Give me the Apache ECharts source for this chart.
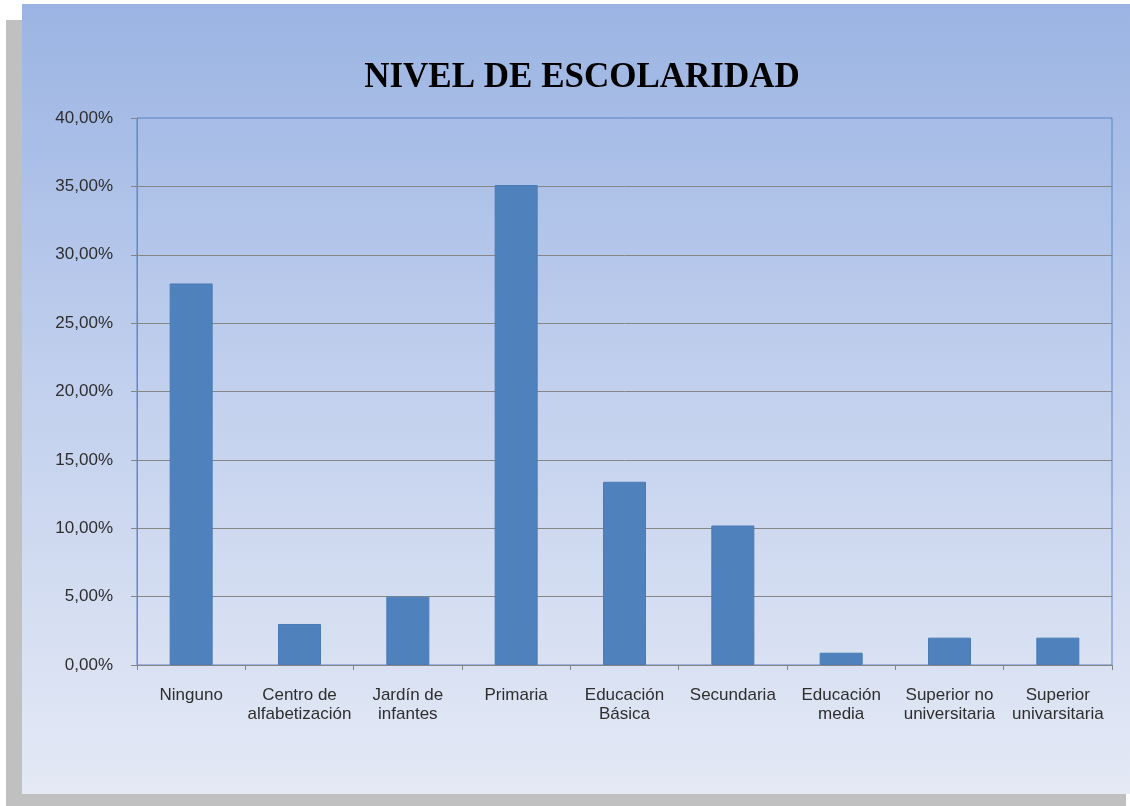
<!DOCTYPE html>
<html>
<head>
<meta charset="utf-8">
<script src="https://cdn.jsdelivr.net/npm/echarts@6/dist/echarts.min.js"></script>
<style>
html, body { margin: 0; padding: 0; background: #ffffff; }
#chart { width: 1130px; height: 806px; }
</style>
</head>
<body>
<div id="chart"></div>
<script>
// datos
var categorias = ['Ninguno', 'Centro de\nalfabetización', 'Jardín de\ninfantes', 'Primaria',
  'Educación\nBásica', 'Secundaria', 'Educación\nmedia', 'Superior no\nuniversitaria', 'Superior\nunivarsitaria'];
var porcentajes = [27.9, 3.0, 5.0, 35.1, 13.4, 10.2, 0.9, 2.0, 2.0];
var titulo = 'NIVEL DE ESCOLARIDAD';

var chart = echarts.init(document.getElementById('chart'), null, { renderer: 'canvas' });
chart.setOption({
  animation: false,
  graphic: [
    { type: 'rect', z: -10, silent: true, shape: { x: 6, y: 20, width: 1120, height: 786 },
      style: { fill: '#c0c0c0' } },
    { type: 'rect', z: -9, silent: true, shape: { x: 22, y: 4, width: 1108, height: 790 },
      style: {
        fill: new echarts.graphic.LinearGradient(0, 0, 0, 1, [
          { offset: 0, color: '#9bb4e3' },
          { offset: 0.5, color: '#c3d1ee' },
          { offset: 1, color: '#e4e9f5' }
        ])
      } }
  ],
  title: {
    text: titulo,
    left: 577,
    textAlign: 'center',
    top: 55,
    textStyle: {
      fontFamily: 'Liberation Serif',
      fontWeight: 'bold',
      fontSize: 35,
      color: '#000000'
    }
  },
  grid: {
    left: 137,
    top: 118,
    right: 18,
    bottom: 141,
    show: true,
    borderColor: '#5a82c8',
    borderWidth: 1,
    backgroundColor: 'transparent'
  },
  xAxis: {
    type: 'category',
    data: categorias,
    axisLine: { show: true, lineStyle: { color: '#858585', width: 1 } },
    axisTick: { show: true, length: 5, alignWithLabel: false, lineStyle: { color: '#858585' } },
    axisLabel: {
      interval: 0,
      margin: 21,
      fontFamily: 'Liberation Sans',
      fontSize: 17,
      lineHeight: 19,
      color: '#2e2e2e',
      align: 'center'
    }
  },
  yAxis: {
    type: 'value',
    min: 0,
    max: 40,
    interval: 5,
    axisLine: { show: true, lineStyle: { color: '#858585', width: 1 } },
    axisTick: { show: true, inside: false, length: 6, lineStyle: { color: '#858585' } },
    splitLine: { show: true, showMaxLine: false, lineStyle: { color: '#868686', width: 1 } },
    axisLabel: {
      margin: 24,
      fontFamily: 'Liberation Sans',
      fontSize: 17,
      color: '#2e2e2e',
      formatter: function (v) { return v.toFixed(2).replace('.', ',') + '%'; }
    }
  },
  series: [{
    type: 'bar',
    data: porcentajes,
    barWidth: 43,
    itemStyle: { color: '#4f81bd', borderColor: '#4a7bb7', borderWidth: 1 }
  }]
});
</script>
</body>
</html>
